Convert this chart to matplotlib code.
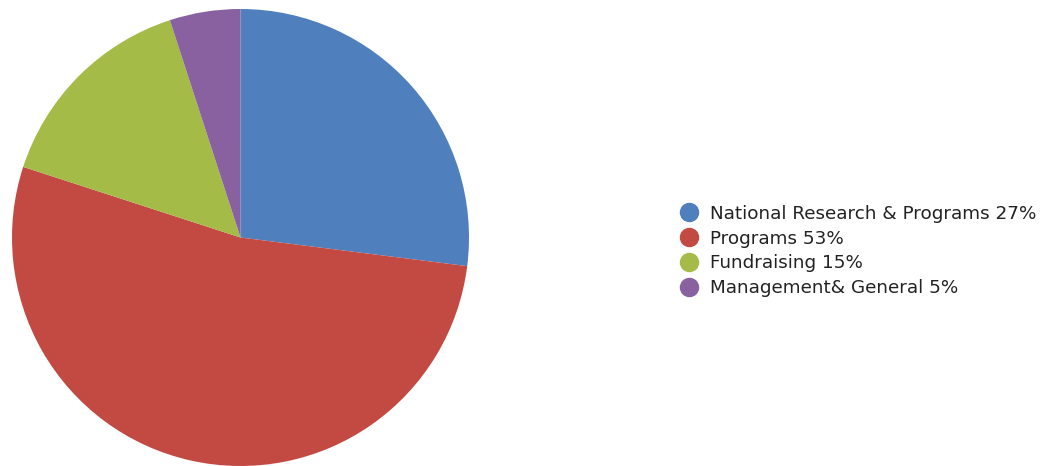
import matplotlib
matplotlib.use("Agg")
import matplotlib.pyplot as plt
from matplotlib.lines import Line2D

labels = ["National Research & Programs 27%", "Programs 53%", "Fundraising 15%", "Management& General 5%"]
values = [27, 53, 15, 5]
colors = ["#4F80BD", "#C34A43", "#A5BB48", "#8961A0"]

W, H = 1046, 466
fig = plt.figure(figsize=(W / 100, H / 100), dpi=100)
ax = fig.add_axes([12 / W, 0 / H, 457 / W, 457 / H])
ax.pie(values, colors=colors, startangle=90, counterclock=False, radius=1.0,
       wedgeprops=dict(linewidth=0))
ax.set_xlim(-1, 1)
ax.set_ylim(-1, 1)
ax.set_aspect("equal")
ax.axis("off")

handles = [Line2D([0], [0], marker="o", linestyle="none", markersize=13,
                  markerfacecolor=c, markeredgecolor=c) for c in colors]
fig.legend(handles, labels, loc="center left", bbox_to_anchor=(672 / W, 1 - 251 / H),
           frameon=False, fontsize=13.2, handletextpad=0.6, labelspacing=0.38,
           handlelength=1.1, borderaxespad=0, labelcolor="#222222")

fig.savefig("out.png", dpi=100)
